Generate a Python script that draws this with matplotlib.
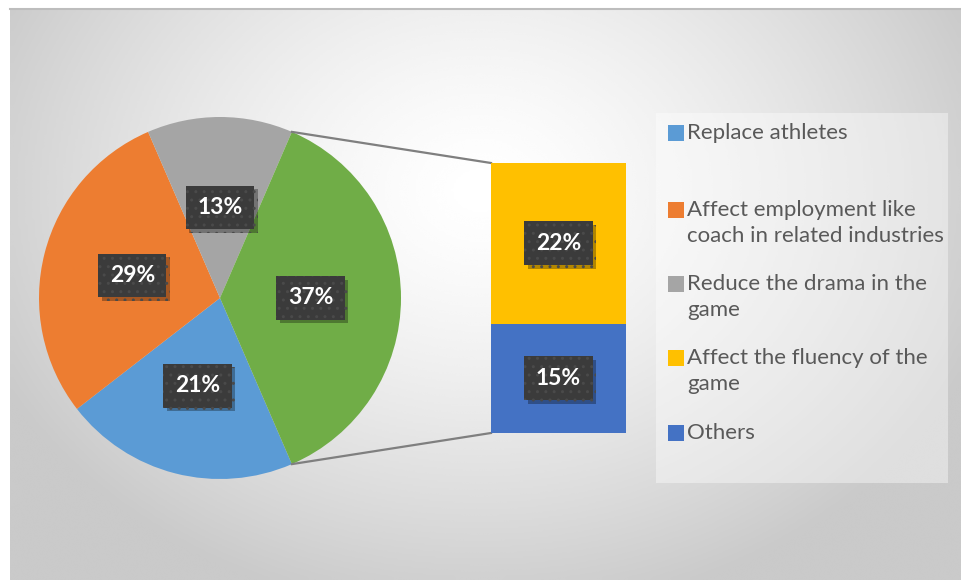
import matplotlib
matplotlib.use('Agg')
import matplotlib.pyplot as plt
import matplotlib.patheffects as pe
from matplotlib.patches import Rectangle
import numpy as np

# pie data (the last slice is split into the bar)
pie_labels = ['Replace athletes', 'Affect employment like\ncoach in related industries',
              'Reduce the drama in the\ngame']
pie_values = [21, 29, 13]
bar_labels = ['Affect the fluency of the\ngame', 'Others']
bar_values = [22, 15]

pie_colors = ['#5B9BD5', '#ED7D31', '#A5A5A5', '#70AD47']
bar_colors = ['#FFC000', '#4472C4']

W, H = 962, 580
fig = plt.figure(figsize=(W / 100, H / 100), dpi=100)
fig.patch.set_facecolor('white')
ax = fig.add_axes([0, 0, 1, 1])

# radial gray background of the chart area
gx, gy = np.meshgrid(np.linspace(10, W, 400), np.linspace(0, H - 9, 300))
d = np.sqrt(((gx - 480) / 540) ** 2 + ((gy - 390) / 430) ** 2)
shade = 1 - 0.21 * np.clip(d, 0, 1) ** 1.4
ax.imshow(shade, cmap='gray', vmin=0, vmax=1, extent=[10, W, 0, H - 9],
          origin='lower', interpolation='bicubic', zorder=0)
ax.plot([10, W], [H - 9, H - 9], color='#bdbdbd', lw=1.5, zorder=1)

other_total = sum(bar_values)
values = pie_values + [other_total]
total = sum(values)
start = -other_total / total * 180

cx, cy, r = 220, 282, 181
wedges, texts, autotexts = ax.pie(values, colors=pie_colors, center=(cx, cy), radius=r,
                                  startangle=start, counterclock=False,
                                  autopct='%1.0f%%', pctdistance=0.5,
                                  wedgeprops=dict(linewidth=0))

# bar of the split slice
bx, bw, bbottom, bheight = 558.5, 135, 147, 270
scale = bheight / other_total
bottom = bbottom
bar_containers = []
for val, col in zip(bar_values[::-1], bar_colors[::-1]):
    bc = ax.bar(bx, val * scale, width=bw, bottom=bottom, color=col, zorder=3)
    bar_containers.append((bc, val))
    bottom += val * scale

bar_texts = []
for bc, val in bar_containers:
    bar_texts += ax.bar_label(bc, labels=['%d%%' % val], label_type='center')

# connector lines
ang = np.deg2rad(-start)
for sgn, yb in [(1, bbottom + bheight), (-1, bbottom)]:
    px = cx + r * np.cos(ang)
    py = cy + sgn * r * np.sin(ang)
    ax.plot([px, bx - bw / 2], [py, yb], color='#7f7f7f', lw=1.6, zorder=2)

for t in list(autotexts) + bar_texts:
    t.set_fontfamily('Lato')
    t.set_fontweight('bold')
    t.set_fontsize(16.5)
    t.set_color('white')
    t.set_zorder(5)
    t.set_bbox(dict(boxstyle='square,pad=0.5', facecolor='#3b3b3b',
                    edgecolor='#4a4a4a', linewidth=0, hatch='..'))
    t.get_bbox_patch().set_path_effects([
        pe.SimplePatchShadow(offset=(2.5, -2.5), shadow_rgbFace='black', alpha=0.3),
        pe.Normal()])

# legend
ax.add_patch(Rectangle((656, H - 483), 292, 370, facecolor='white', alpha=0.4,
                       edgecolor='none', zorder=3))
leg_labels = pie_labels + bar_labels
leg_colors = pie_colors[:3] + bar_colors
leg_y = [133, 210, 284, 358, 433]
for lab, col, yy in zip(leg_labels, leg_colors, leg_y):
    ax.scatter([676], [H - yy], marker='s', s=120, color=col, zorder=4, linewidths=0)
    ax.text(687, H - yy + 10, lab, fontsize=16, family='Lato', color='#595959',
            va='top', ha='left', linespacing=1.36, zorder=4)

ax.set_xlim(0, W)
ax.set_ylim(0, H)
ax.set_aspect('equal')
ax.axis('off')

fig.savefig('out.png', dpi=100)
